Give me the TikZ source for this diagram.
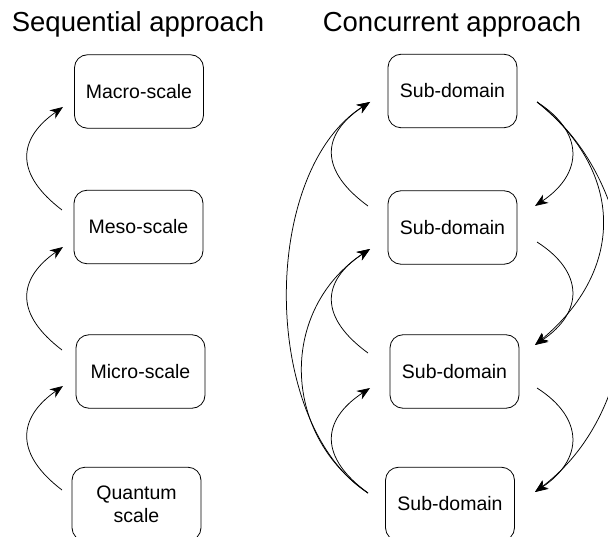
\documentclass[tikz,border=0pt]{standalone}
\usepackage{fontspec}
\setmainfont{Liberation Sans}
\usetikzlibrary{arrows.meta}
\tikzset{
  box/.style={draw=black, line width=0.8pt, rounded corners=13pt, minimum width=129pt, minimum height=73.5pt, inner sep=0pt, align=center, font=\fontsize{19.5}{23}\selectfont},
  heading/.style={anchor=base, inner sep=0pt, font=\fontsize{27.5}{32}\selectfont},
  link/.style={line width=0.75pt, -{Stealth[length=13pt,width=10pt,inset=4pt]}}
}
\begin{document}
\begin{tikzpicture}[x=1pt,y=-1pt]
\useasboundingbox (0,0) rectangle (608,537);
% headings
\node[heading] (h1) at (138,32) {Sequential approach};
\node[heading] (h2) at (452,32) {Concurrent approach};
% sequential boxes
\node[box] (macro) at (139,91.5) {Macro-scale};
\node[box] (meso) at (138.5,227) {Meso-scale};
\node[box] (micro) at (140.5,371.5) {Micro-scale};
\node[box] (quantum) at (136.5,504) {Quantum\\scale};
% concurrent boxes
\node[box] (sd1) at (452.5,91) {Sub-domain};
\node[box] (sd2) at (452.5,227.5) {Sub-domain};
\node[box] (sd3) at (454.5,371.5) {Sub-domain};
\node[box] (sd4) at (450,504) {Sub-domain};
% sequential arrows
\draw[link] ([shift={(-76.5,-17)}]meso.center) .. controls +(-46,-35) and +(-47,33) .. ([shift={(-76,15.5)}]macro.center);
\draw[link] ([shift={(-78.5,-21.5)}]micro.center) .. controls +(-46,-35) and +(-47,33) .. ([shift={(-75.5,20)}]meso.center);
\draw[link] ([shift={(-74.5,-14)}]quantum.center) .. controls +(-46,-35) and +(-47,33) .. ([shift={(-77.5,14.5)}]micro.center);
% concurrent, left side (upwards)
\draw[link] ([shift={(-84.5,-21.5)}]sd2.center) .. controls +(-48,-35) and +(-50,33) .. ([shift={(-82.5,11)}]sd1.center);
\draw[link] ([shift={(-86.5,-18.5)}]sd3.center) .. controls +(-48,-35) and +(-50,33) .. ([shift={(-82.5,21.5)}]sd2.center);
\draw[link] ([shift={(-82,-11)}]sd4.center) .. controls +(-48,-35) and +(-50,33) .. ([shift={(-84.5,16.5)}]sd3.center);
\draw[link] ([shift={(-82,-11)}]sd4.center) .. controls +(-108,-70) and +(-110,70) .. ([shift={(-82.5,11)}]sd1.center);
\draw[link] ([shift={(-82,-11)}]sd4.center) .. controls +(-88,-60) and +(-90,60) .. ([shift={(-82.5,21.5)}]sd2.center);
% concurrent, right side (downwards)
\draw[link] ([shift={(84.5,11)}]sd1.center) .. controls +(47,30) and +(49,-33) .. ([shift={(82.5,-21.5)}]sd2.center);
\draw[link] ([shift={(84.5,14.5)}]sd2.center) .. controls +(47,30) and +(49,-33) .. ([shift={(80.5,-26.5)}]sd3.center);
\draw[link] ([shift={(82.5,16.5)}]sd3.center) .. controls +(47,30) and +(49,-33) .. ([shift={(85,-12)}]sd4.center);
\draw[link] ([shift={(84.5,11)}]sd1.center) .. controls +(88,70) and +(90,-75) .. ([shift={(80.5,-26.5)}]sd3.center);
\draw[link] ([shift={(84.5,11)}]sd1.center) .. controls +(118,90) and +(120,-90) .. ([shift={(85,-12)}]sd4.center);
\end{tikzpicture}
\end{document}
